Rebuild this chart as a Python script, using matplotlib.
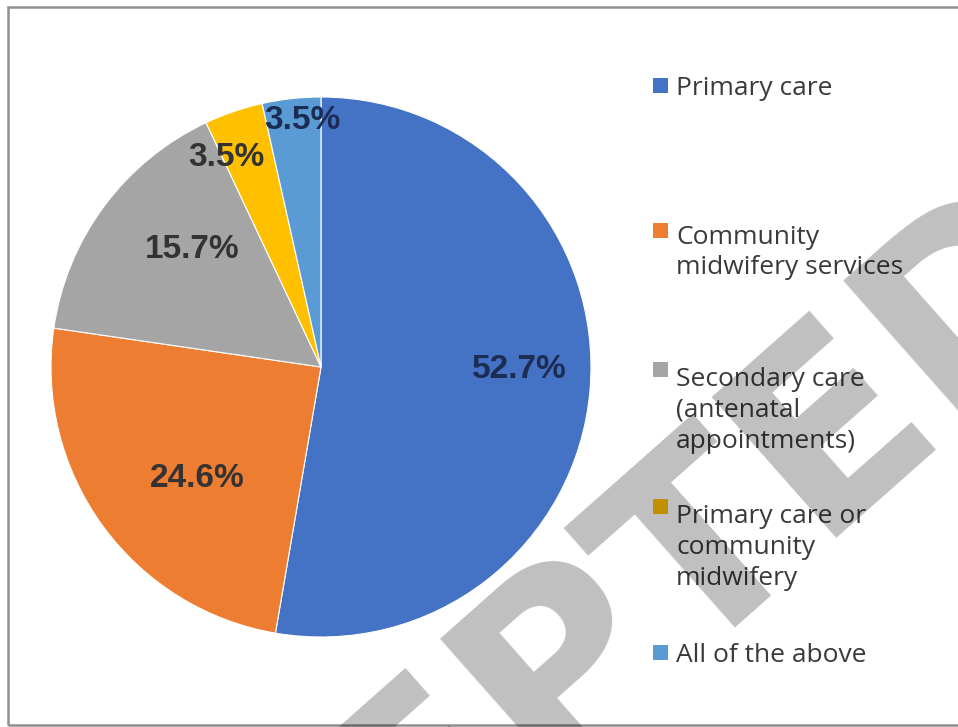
import numpy as np
import matplotlib
matplotlib.use("Agg")
import matplotlib.pyplot as plt
from matplotlib.patches import Rectangle

# data
categories = ["Primary care",
              "Community\nmidwifery services",
              "Secondary care\n(antenatal\nappointments)",
              "Primary care or\ncommunity\nmidwifery",
              "All of the above"]
shares = [52.7, 24.6, 15.7, 3.5, 3.5]
colors = ["#4472C4", "#ED7D31", "#A5A5A5", "#FFC000", "#5B9BD5"]

W, H = 958, 727
fig = plt.figure(figsize=(W / 100, H / 100), dpi=100)
fig.patch.set_facecolor("white")

# pie axes, square in pixels (centre ~ (321,367), radius ~270)
cx, cy, r = 321, 367, 270
ax = fig.add_axes([(cx - r) / W, (H - cy - r) / H, 2 * r / W, 2 * r / H])
wedges, texts, autotexts = ax.pie(
    shares, colors=colors, startangle=90, counterclock=False,
    autopct="%.1f%%", pctdistance=0.7, radius=1.0,
    wedgeprops=dict(edgecolor="white", linewidth=0.8),
    textprops=dict(fontsize=24, fontweight="bold", color="#333333",
                   family="Liberation Sans"))
ax.set_xlim(-1, 1)
ax.set_ylim(-1, 1)
ax.set_aspect("auto")
ax.axis("off")

# move the percentage labels roughly to where Excel put them
label_r = [0.733, 0.616, 0.645, 0.85, 0.917]
label_turn = [4.0, 6.0, -5.7, 5.5, -1.9]
for w, t, lr, lt in zip(wedges, autotexts, label_r, label_turn):
    mid = np.deg2rad((w.theta1 + w.theta2) / 2 + lt)
    t.set_position((lr * np.cos(mid), lr * np.sin(mid)))
    t.set_ha("center")
    t.set_va("center")
autotexts[0].set_color("#1c2c52")
autotexts[4].set_color("#1c2c52")

# hand-made legend (Excel spreads entries unevenly)
fs = 19
spacing = 1.30
pitch = spacing * fs * 100 / 72
entry_base = [95, 240, 379, 516, 662]   # baseline of first line, px from top
for lab, col, yb in zip(categories, colors, entry_base):
    fig.patches.append(Rectangle((653 / W, (H - yb + 2) / H), 15 / W, 15 / H,
                                 transform=fig.transFigure, facecolor=col,
                                 edgecolor="none"))
    # matplotlib puts a multi-line 'baseline' on the last line
    y_last = yb + (lab.count("\n")) * pitch
    fig.text(676 / W, (H - y_last) / H, lab, ha="left", va="baseline",
             fontsize=fs, family="Open Sans", color="#3a3a3a",
             linespacing=spacing)

# frame around the picture
fig.patches.append(Rectangle((8 / W, 2 / H), 1.0, (H - 9) / H,
                             transform=fig.transFigure, facecolor="none",
                             edgecolor="#8f8f8f", linewidth=1.8))

# watermark
fig.text(547 / W, 1 - 793 / H, "ACCEPTED", rotation=41.5, rotation_mode="anchor",
         ha="center", va="baseline", fontsize=185, fontweight="bold",
         color="black", alpha=0.25, zorder=10)

fig.savefig("out.png", dpi=100)
